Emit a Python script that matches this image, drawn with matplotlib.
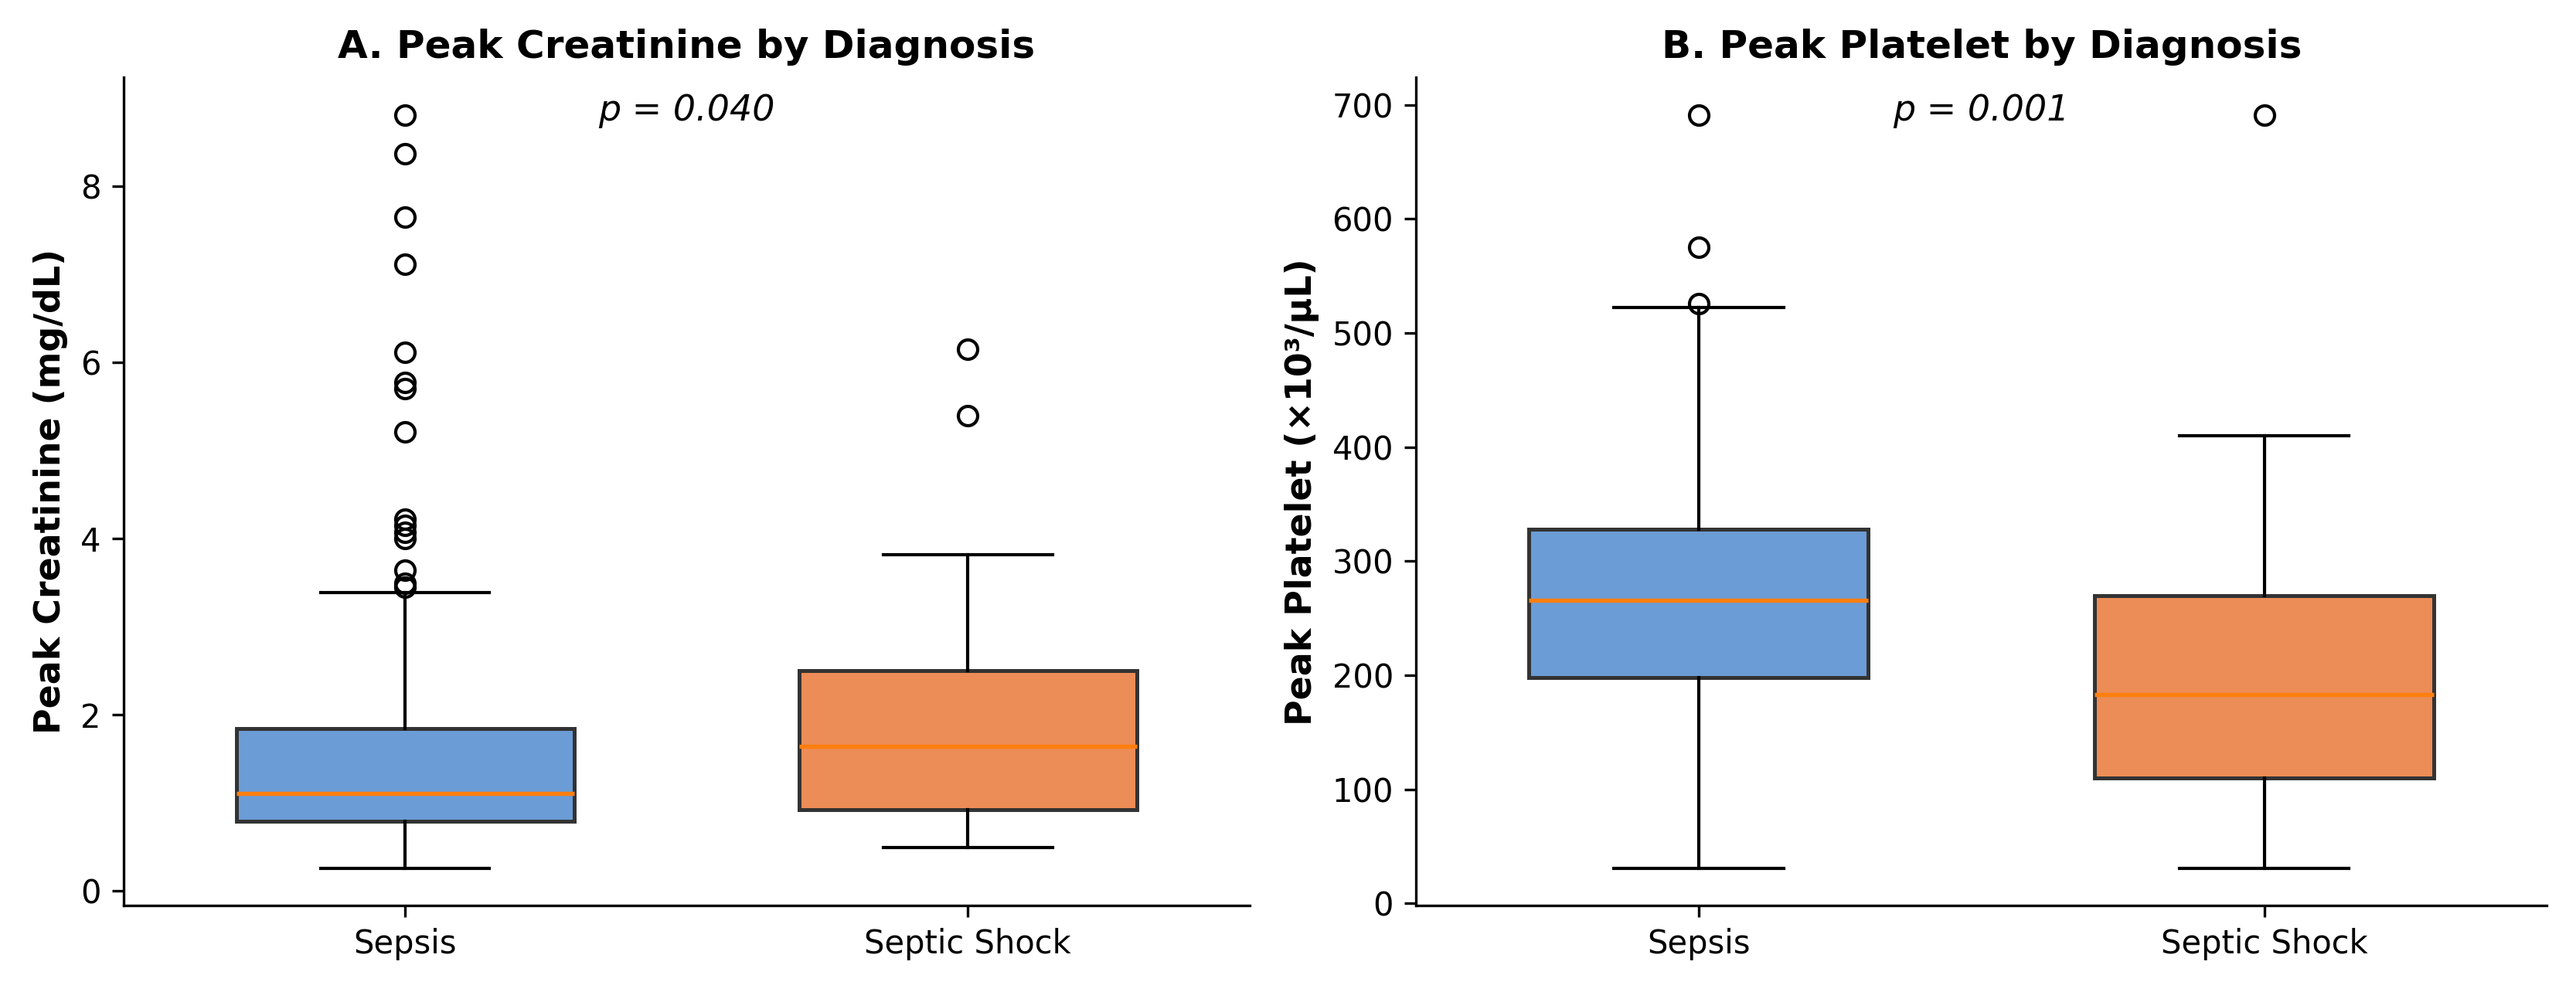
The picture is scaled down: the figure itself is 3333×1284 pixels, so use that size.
import matplotlib
matplotlib.use("Agg")
import matplotlib.pyplot as plt

# grupos
groups = ["Sepsis", "Septic Shock"]
colors = ["#6B9CD6", "#EC8C56"]

# creatinina (mg/dL): whislo, q1, med, q3, whishi
creat_sepsis = [0.26, 0.79, 1.11, 1.84, 3.39]
creat_shock = [0.49, 0.92, 1.64, 2.50, 3.82]
creat_fliers_sepsis = [8.81, 8.37, 7.65, 7.12, 6.12, 5.77, 5.70, 5.21,
                       4.22, 4.15, 4.07, 4.00, 3.64, 3.49, 3.45]
creat_fliers_shock = [6.15, 5.40]

# plaquetas (x10^3/uL)
plt_sepsis = [31, 198, 266, 328, 522]
plt_shock = [31, 110, 183, 270, 410]
plt_fliers_sepsis = [691, 575, 526]
plt_fliers_shock = [691]

p_values = ["p = 0.040", "p = 0.001"]


def make_stats(vals, fliers, label):
    return dict(whislo=vals[0], q1=vals[1], med=vals[2], q3=vals[3],
                whishi=vals[4], fliers=fliers, label=label)


fig = plt.figure(figsize=(11.11, 4.28), dpi=300)
ax1 = fig.add_axes([0.048, 0.087, 0.437, 0.835])
ax2 = fig.add_axes([0.5497, 0.087, 0.439, 0.835])

panels = [
    (ax1, [make_stats(creat_sepsis, creat_fliers_sepsis, groups[0]),
           make_stats(creat_shock, creat_fliers_shock, groups[1])],
     "A. Peak Creatinine by Diagnosis", "Peak Creatinine (mg/dL)", p_values[0]),
    (ax2, [make_stats(plt_sepsis, plt_fliers_sepsis, groups[0]),
           make_stats(plt_shock, plt_fliers_shock, groups[1])],
     "B. Peak Platelet by Diagnosis", "Peak Platelet (×10³/μL)", p_values[1]),
]

for ax, stats, title, ylabel, ptxt in panels:
    bp = ax.bxp(stats, widths=0.6, patch_artist=True, showfliers=True,
                medianprops=dict(color="#ff7f0e", linewidth=1.3),
                flierprops=dict(marker="o", markerfacecolor="none",
                                markeredgecolor="black", markersize=6))
    for patch, c in zip(bp["boxes"], colors):
        patch.set_facecolor(c)
        patch.set_edgecolor("#333333")
        patch.set_linewidth(1.2)
    ax.set_title(title, fontsize=12, fontweight="bold")
    ax.set_ylabel(ylabel, fontsize=11, fontweight="bold")
    ax.text(0.5, 0.96, ptxt, transform=ax.transAxes, ha="center", va="center",
            fontsize=11, style="italic")
    ax.spines["top"].set_visible(False)
    ax.spines["right"].set_visible(False)
    ax.tick_params(labelsize=10)

fig.savefig("out.png", dpi=300)
